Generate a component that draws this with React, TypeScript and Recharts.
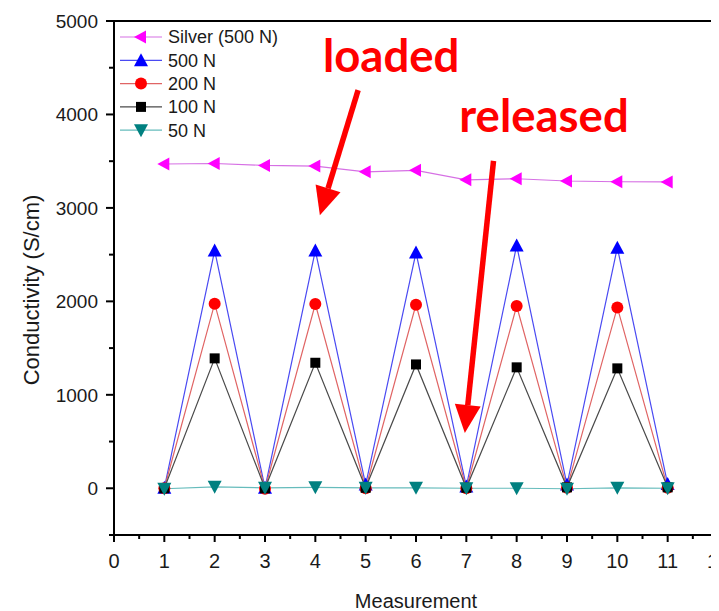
import React from 'react';
import {
  Legend,
  Line,
  LineChart,
  ReferenceArea,
  ReferenceDot,
  ReferenceLine,
  XAxis,
  YAxis,
} from 'recharts';

const measurements = [1, 2, 3, 4, 5, 6, 7, 8, 9, 10, 11];
const silver500 = [3470, 3475, 3455, 3448, 3386, 3402, 3300, 3312, 3288, 3280, 3278];
const force500 = [5, 2543, 5, 2543, 40, 2522, 20, 2598, 40, 2575, 45];
const force200 = [0, 1975, -5, 1972, 0, 1965, 0, 1950, 5, 1935, 5];
const force100 = [0, 1390, 0, 1343, 5, 1325, 5, 1294, 10, 1283, 10];
const force50 = [-5, 15, 5, 10, 5, 5, 0, 0, -5, 5, 0];

const xTicks = [0, 0.5, 1, 1.5, 2, 2.5, 3, 3.5, 4, 4.5, 5, 5.5, 6, 6.5, 7, 7.5, 8, 8.5, 9, 9.5, 10, 10.5, 11, 11.5, 12];
const yTicks = [-500, 0, 500, 1000, 1500, 2000, 2500, 3000, 3500, 4000, 4500, 5000];

// annotation arrows: tail -> tip, in data units
const loadedArrow = [{ x: 4.85, y: 4260 }, { x: 4.09, y: 2922 }];
const releasedArrow = [{ x: 7.54, y: 3503 }, { x: 6.97, y: 591 }];
const loadedText = { x: 4.15, y: 4455 };
const releasedText = { x: 6.86, y: 3813 };

const data = measurements.map((m, i) => ({
  m,
  silver: silver500[i],
  n500: force500[i],
  n200: force200[i],
  n100: force100[i],
  n50: force50[i],
}));

const series = [
  { key: 'silver', name: 'Silver (500 N)', color: '#ff00ff', line: '#d670e4', shape: 'left' },
  { key: 'n500', name: '500 N', color: '#0000ff', line: '#4a4af2', shape: 'up' },
  { key: 'n200', name: '200 N', color: '#ff0000', line: '#e06464', shape: 'circle' },
  { key: 'n100', name: '100 N', color: '#000000', line: '#4a4a4a', shape: 'square' },
  { key: 'n50', name: '50 N', color: '#008080', line: '#66bcbc', shape: 'down' },
];

const font = "'Liberation Sans', Arial, sans-serif";

const Marker = ({ cx, cy, shape, color }: any) => {
  if (cx == null || cy == null) return null;
  if (shape === 'left')
    return <polygon points={`${cx - 7},${cy} ${cx + 5},${cy - 6.5} ${cx + 5},${cy + 6.5}`} fill={color} />;
  if (shape === 'up')
    return <polygon points={`${cx},${cy - 7} ${cx - 7},${cy + 6} ${cx + 7},${cy + 6}`} fill={color} />;
  if (shape === 'down')
    return <polygon points={`${cx},${cy + 7} ${cx - 7},${cy - 6} ${cx + 7},${cy - 6}`} fill={color} />;
  if (shape === 'square') return <rect x={cx - 5} y={cy - 5} width={10} height={10} fill={color} />;
  return <circle cx={cx} cy={cy} r={6} fill={color} />;
};

const XTick = ({ x, y, payload }: any) => {
  const v = payload.value;
  const major = Number.isInteger(v);
  return (
    <g>
      <line x1={x} y1={y} x2={x} y2={y + (major ? 7 : 4)} stroke='#000' strokeWidth={2} />
      {major && (
        <text x={x} y={y + 33} textAnchor='middle' fontSize={20} fontFamily={font} fill='#1a1a1a'>
          {v}
        </text>
      )}
    </g>
  );
};

const YTick = ({ x, y, payload }: any) => {
  const v = payload.value;
  const major = v % 1000 === 0;
  return (
    <g>
      <line x1={x - (major ? 8 : 5)} y1={y} x2={x} y2={y} stroke='#000' strokeWidth={2} />
      {major && (
        <text x={x - 16} y={y} dy='0.36em' textAnchor='end' fontSize={19} fontFamily={font} fill='#1a1a1a'>
          {v}
        </text>
      )}
    </g>
  );
};

const Arrow = ({ x1, y1, x2, y2 }: any) => {
  const dx = x2 - x1;
  const dy = y2 - y1;
  const len = Math.sqrt(dx * dx + dy * dy);
  const ux = dx / len;
  const uy = dy / len;
  const bx = x2 - ux * 28;
  const by = y2 - uy * 28;
  return (
    <g>
      <line x1={x1} y1={y1} x2={bx} y2={by} stroke='#ff0000' strokeWidth={5.5} />
      <polygon
        points={`${x2},${y2} ${bx - uy * 13},${by + ux * 13} ${bx + uy * 13},${by - ux * 13}`}
        fill='#ff0000'
      />
    </g>
  );
};

const note = (label: string) => ({ cx, cy }: any) => (
  <text x={cx} y={cy} fontSize={45.5} fontWeight={700} fontFamily="Lato, 'Open Sans', sans-serif" fill='#ff0000'>
    {label}
  </text>
);

const LegendBox = () => (
  <svg width={180} height={122}>
    {series.map((s, i) => {
      const cy = 15 + i * 23.3;
      return (
        <g key={s.key}>
          <line x1={0} y1={cy} x2={42} y2={cy} stroke={s.line} strokeWidth={1.2} />
          <Marker cx={21} cy={cy} shape={s.shape} color={s.color} />
          <text x={48} y={cy} dy='0.36em' fontSize={18} fontFamily={font} fill='#1a1a1a'>
            {s.name}
          </text>
        </g>
      );
    })}
  </svg>
);

const App = () => {
  return (
    <LineChart width={711} height={603} data={data} margin={{ top: 13, right: 1, left: 0, bottom: 0 }}>
      <XAxis
        dataKey='m'
        type='number'
        domain={[0, 12]}
        ticks={xTicks}
        interval={0}
        height={76}
        tickSize={0}
        tickMargin={0}
        tickLine={false}
        tick={<XTick />}
        axisLine={{ stroke: '#000', strokeWidth: 2 }}
        label={({ viewBox }: any) => (
          <text x={viewBox.x + viewBox.width / 2} y={viewBox.y + 73} textAnchor='middle' fontSize={20} fontFamily={font} fill='#1a1a1a'>
            Measurement
          </text>
        )}
      />
      <YAxis
        type='number'
        domain={[-500, 5000]}
        ticks={yTicks}
        interval={0}
        width={106}
        tickSize={0}
        tickMargin={0}
        tickLine={false}
        tick={<YTick />}
        axisLine={{ stroke: '#000', strokeWidth: 2 }}
        label={({ viewBox }: any) => (
          <text
            x={23}
            y={viewBox.y + viewBox.height / 2 + 12}
            transform={`rotate(-90 23 ${viewBox.y + viewBox.height / 2 + 12})`}
            textAnchor='middle'
            dominantBaseline='central'
            fontSize={22}
            fontFamily={font}
            fill='#1a1a1a'
          >
            Conductivity (S/cm)
          </text>
        )}
      />
      <ReferenceArea x1={0} x2={12} y1={-500} y2={5000} fill='none' stroke='#000' strokeWidth={2} ifOverflow='visible' />
      <Legend
        layout='vertical'
        align='center'
        verticalAlign='middle'
        wrapperStyle={{ position: 'absolute', left: 112, top: 14, width: 180, height: 122 }}
        content={() => <LegendBox />}
      />
      {series.map((s) => (
        <Line
          key={s.key}
          dataKey={s.key}
          name={s.name}
          stroke={s.line}
          strokeWidth={1.2}
          isAnimationActive={false}
          activeDot={false}
          dot={(p: any) => <Marker key={`${s.key}-${p.index}`} cx={p.cx} cy={p.cy} shape={s.shape} color={s.color} />}
        />
      ))}
      <ReferenceLine segment={loadedArrow} ifOverflow='visible' shape={<Arrow />} />
      <ReferenceLine segment={releasedArrow} ifOverflow='visible' shape={<Arrow />} />
      <ReferenceDot x={loadedText.x} y={loadedText.y} ifOverflow='visible' shape={note('loaded')} />
      <ReferenceDot x={releasedText.x} y={releasedText.y} ifOverflow='visible' shape={note('released')} />
    </LineChart>
  );
};

export default App;
